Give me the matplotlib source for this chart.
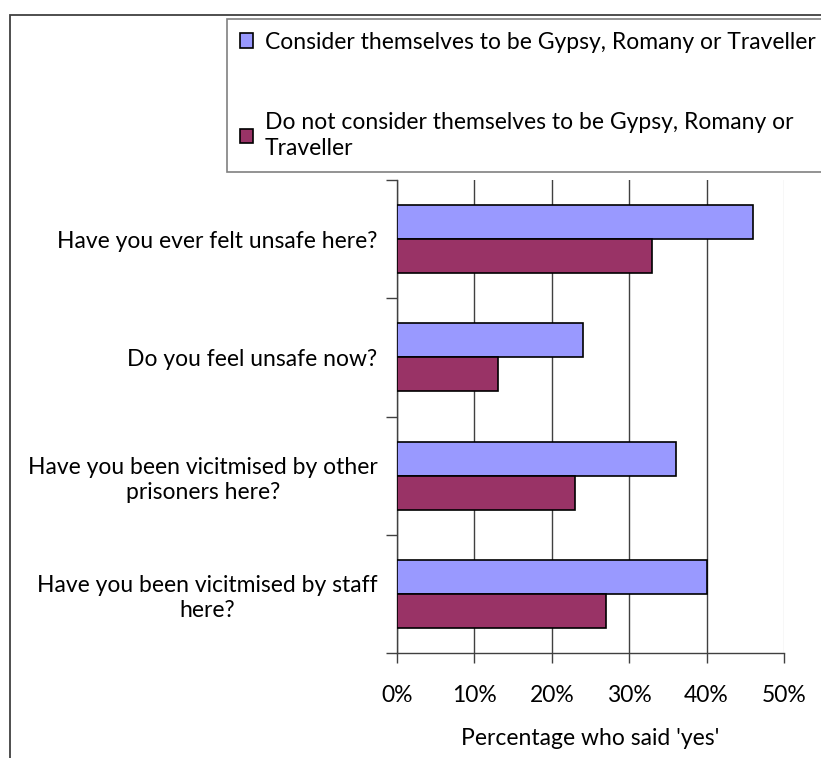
import numpy as np
import matplotlib.pyplot as plt
from matplotlib.patches import Rectangle
from matplotlib.ticker import PercentFormatter

questions = [
    "Have you ever felt unsafe here?",
    "Do you feel unsafe now?",
    "Have you been vicitmised by other\nprisoners here?",
    "Have you been vicitmised by staff\nhere?",
]
grt_yes = [0.46, 0.24, 0.36, 0.40]
non_grt_yes = [0.33, 0.13, 0.23, 0.27]
series_names = [
    "Consider themselves to be Gypsy, Romany or Traveller",
    "Do not consider themselves to be Gypsy, Romany or\nTraveller",
]
x_ticks = [0, 0.1, 0.2, 0.3, 0.4, 0.5]

BLUE = "#9999ff"
PLUM = "#993366"
FONT = "Lato"
FS = 16.5


def main():
    plt.rcParams["font.family"] = FONT
    fig = plt.figure(figsize=(8.21, 7.58), dpi=100)
    ax = fig.add_axes([397 / 821, 1 - 653 / 758, 387 / 821, 473 / 758])

    y = np.arange(len(questions))
    h = 0.2875
    b1 = ax.barh(y - h / 2, grt_yes, height=h, color=BLUE,
                 edgecolor="black", linewidth=1.2, zorder=3)
    b2 = ax.barh(y + h / 2, non_grt_yes, height=h, color=PLUM,
                 edgecolor="black", linewidth=1.2, zorder=3)

    ax.set_xlim(0, 0.5)
    ax.set_ylim(len(questions) - 0.5, -0.5)

    # category borders get the tick marks, labels sit in between
    ax.set_yticks(np.arange(len(questions) + 1) - 0.5)
    ax.set_yticklabels([])
    ax.set_yticks(y, minor=True)
    ax.set_yticklabels(questions, minor=True, fontsize=FS,
                       multialignment="center", linespacing=1.25)
    ax.tick_params(axis="y", which="major", length=8, width=1, color="#404040")
    ax.tick_params(axis="y", which="minor", length=0, pad=14)

    ax.set_xticks(x_ticks)
    ax.xaxis.set_major_formatter(PercentFormatter(1.0, decimals=0))
    ax.tick_params(axis="x", length=7, width=1, color="#404040",
                   labelsize=FS, pad=16)
    ax.set_xlabel("Percentage who said 'yes'", fontsize=FS, labelpad=16)

    ax.grid(axis="x", color="#404040", linewidth=1, zorder=0)
    ax.get_xgridlines()[-1].set_color("#d9d9d9")

    for s in ["top", "right"]:
        ax.spines[s].set_visible(False)
    for s in ["left", "bottom"]:
        ax.spines[s].set_color("#404040")
        ax.spines[s].set_linewidth(1)

    # chart area border, running off the right and bottom edges
    fig.patches.append(Rectangle((10 / 821, -0.05), 1.0, 1 - 15 / 758 + 0.05,
                                 transform=fig.transFigure, fill=False,
                                 edgecolor="#404040", linewidth=1.3))

    leg = fig.legend([b1, b2], series_names, loc="upper left",
                     bbox_to_anchor=(227 / 821, 1 - 19 / 758, 0.75, 0.0),
                     mode="expand", borderaxespad=0, fontsize=FS,
                     handlelength=0.6, handleheight=0.6, handletextpad=0.5,
                     labelspacing=2.6, borderpad=0.55, fancybox=False,
                     edgecolor="#808080", framealpha=1)
    leg.get_frame().set_linewidth(1.2)
    for t in leg.get_texts():
        t.set_linespacing(1.3)

    fig.savefig("out.png", dpi=100)


if __name__ == "__main__":
    main()
